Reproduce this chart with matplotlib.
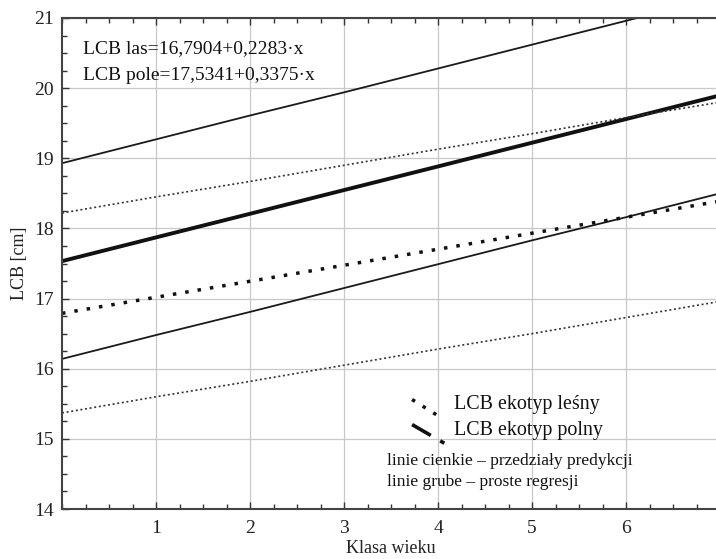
import numpy as np
import matplotlib.pyplot as plt
from matplotlib.lines import Line2D
from matplotlib.ticker import MultipleLocator

plt.rcParams['font.family'] = 'Liberation Serif'
plt.rcParams['font.size'] = 13

# Klasa wieku
klasa = [0, 1, 2, 3, 4, 5, 6, 7]

# proste regresji
pole_reg = [17.534, 17.872, 18.209, 18.547, 18.884, 19.222, 19.559, 19.897]
las_reg = [16.790, 17.019, 17.247, 17.475, 17.704, 17.932, 18.160, 18.389]

# przedzialy predykcji
pole_gora = [18.93, 19.27, 19.61, 19.94, 20.28, 20.62, 20.96, 21.30]
pole_dol = [16.14, 16.48, 16.81, 17.15, 17.49, 17.83, 18.16, 18.50]
las_gora = [18.22, 18.45, 18.67, 18.90, 19.13, 19.35, 19.58, 19.80]
las_dol = [15.37, 15.60, 15.82, 16.05, 16.28, 16.50, 16.73, 16.96]

fig = plt.figure(figsize=(7.16, 5.59), dpi=100)
ax = fig.add_axes([0.0866, 0.0894, 0.9190, 0.8784])

# linie
ax.plot(klasa, pole_gora, color='#1a1a1a', lw=1.3)
ax.plot(klasa, pole_dol, color='#1a1a1a', lw=1.3)
ax.plot(klasa, pole_reg, color='#111111', lw=2.8)
ax.plot(klasa, las_gora, color='#333333', lw=1.2, linestyle=(0, (1.2, 1.6)))
ax.plot(klasa, las_dol, color='#333333', lw=1.2, linestyle=(0, (1.2, 1.6)))
ax.plot(klasa, las_reg, color='#111111', lw=2.5, linestyle=(0, (1.0, 2.6)))

ax.set_xlim(0, 7)
ax.set_ylim(14, 21)
ax.set_xticks([1, 2, 3, 4, 5, 6])
ax.set_yticks(np.arange(14, 22, 1))
ax.xaxis.set_minor_locator(MultipleLocator(0.25))
ax.yaxis.set_minor_locator(MultipleLocator(0.25))
ax.tick_params(which='both', direction='in', top=True, right=False, colors='#333333', labelcolor='#222222')
ax.tick_params(which='major', length=5, width=1.0, labelsize=14)
ax.tick_params(axis='x', which='major', pad=8)
ax.tick_params(axis='y', which='major', pad=6)
ax.tick_params(which='minor', length=3.5, width=1.0)
ax.grid(True, which='major', color='#c8c8c8', lw=0.9)
ax.set_axisbelow(True)

ax.spines['right'].set_visible(False)
for s in ['left', 'bottom', 'top']:
    ax.spines[s].set_color('#444444')
    ax.spines[s].set_linewidth(1.5)

ax.set_xlabel('Klasa wieku', fontsize=13, color='#222222')
ax.set_ylabel('LCB [cm]', fontsize=13, color='#222222')
ax.xaxis.set_label_coords(0.5, -0.064)
ax.yaxis.set_label_coords(-0.052, 0.5)

# rownania
ax.text(0.032, 0.954, 'LCB las=16,7904+0,2283·x', transform=ax.transAxes,
        fontsize=14, va='top', ha='left', color='#111111')
ax.text(0.032, 0.901, 'LCB pole=17,5341+0,3375·x', transform=ax.transAxes,
        fontsize=14, va='top', ha='left', color='#111111')

# legenda
ax.add_line(Line2D([0.532, 0.575], [0.223, 0.187], transform=ax.transAxes,
                   color='#111111', lw=2.5, linestyle=(0, (1.0, 2.6))))
ax.add_line(Line2D([0.532, 0.581], [0.172, 0.134], transform=ax.transAxes,
                   color='#111111', lw=2.6, linestyle=(0, (6, 3))))
ax.text(0.595, 0.212, 'LCB ekotyp leśny', transform=ax.transAxes,
        fontsize=14.4, va='center', ha='left', color='#111111')
ax.text(0.595, 0.160, 'LCB ekotyp polny', transform=ax.transAxes,
        fontsize=14.4, va='center', ha='left', color='#111111')
ax.text(0.494, 0.098, 'linie cienkie – przedziały predykcji', transform=ax.transAxes,
        fontsize=12.5, va='center', ha='left', color='#111111')
ax.text(0.494, 0.056, 'linie grube – proste regresji', transform=ax.transAxes,
        fontsize=12.5, va='center', ha='left', color='#111111')

fig.savefig('out.png', dpi=100)
